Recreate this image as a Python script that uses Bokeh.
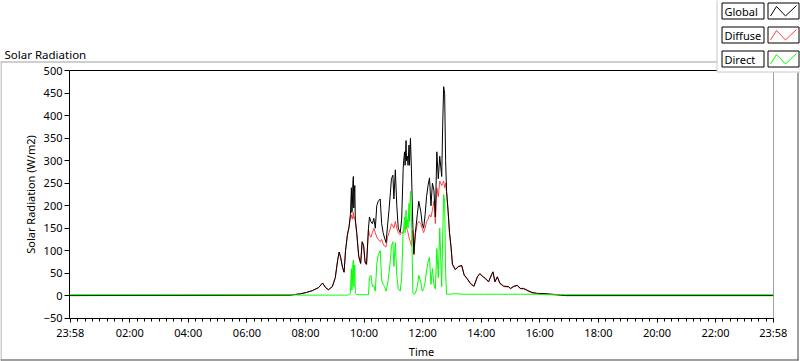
from bokeh.plotting import figure
from bokeh.models import Range1d, FixedTicker, CustomJSTickFormatter, LinearAxis
from bokeh.core.properties import value
from bokeh.embed import file_html
from bokeh.resources import INLINE

# ---------------- data ----------------
times = ["23:58", "07:29", "07:50", "08:02", "08:14", "08:27", "08:35", "08:41", "08:47",
         "08:55", "09:01", "09:06", "09:09", "09:12", "09:16", "09:19", "09:22", "09:26",
         "09:29", "09:32", "09:34", "09:35", "09:36", "09:37", "09:38", "09:39", "09:40",
         "09:41", "09:42", "09:45", "09:49",
         "09:53", "09:56", "09:59", "10:02", "10:05", "10:09", "10:11", "10:14", "10:17",
         "10:20", "10:23", "10:26", "10:29", "10:33", "10:36", "10:39", "10:42", "10:45",
         "10:48", "10:51", "10:54", "10:56", "10:59", "11:01", "11:04", "11:07", "11:10",
         "11:14", "11:17", "11:20", "11:21", "11:23", "11:24", "11:26", "11:27", "11:29",
         "11:30", "11:32", "11:33", "11:35", "11:37",
         "11:40", "11:42", "11:45", "11:49", "11:52", "11:56", "11:59", "12:02", "12:05",
         "12:08", "12:11", "12:14", "12:17", "12:20", "12:23", "12:26", "12:29", "12:32",
         "12:35", "12:39", "12:41", "12:43", "12:45", "12:47", "12:49", "12:52", "12:55",
         "12:58", "13:01", "13:07", "13:13", "13:20", "13:25", "13:31", "13:38", "13:45",
         "13:52", "13:57", "14:04", "14:09", "14:15", "14:22", "14:24", "14:28", "14:33",
         "14:38", "14:46", "14:56", "15:00", "15:07", "15:14", "15:20", "15:27", "15:34",
         "15:44", "15:55", "16:15", "16:36", "16:53", "23:58"]

global_wm2 = [0, 1, 4, 7, 11, 18, 28, 18, 13,
              20, 40, 80, 97, 85, 62, 52, 100, 137,
              152, 180, 240, 185, 200, 250, 265, 195, 230,
              245, 170, 140, 88,
              72, 120, 112, 75, 70, 150, 175, 165, 160,
              172, 150, 200, 210, 215, 160, 140, 128, 118,
              155, 190, 230, 260, 268, 215, 280, 200, 150,
              140, 170, 280, 300, 320, 290, 345, 300, 310,
              290, 335, 290, 350, 280,
              150, 93, 140, 180, 210, 188, 160, 150, 180,
              220, 245, 262, 200, 250, 235, 175, 320, 260,
              310, 265, 380, 465, 450, 300, 232, 190, 140,
              110, 70, 58, 65, 67, 46, 38, 27, 21,
              42, 49, 42, 38, 31, 49, 53, 31, 42,
              28, 21, 20, 16, 21, 23, 16, 16, 12,
              7, 5, 4, 2, 0, 0]

diffuse_wm2 = [0, 1, 4, 7, 11, 18, 28, 18, 13,
               20, 40, 80, 97, 85, 62, 52, 100, 135,
               150, 175, 180, 172, 170, 178, 185, 172, 175,
               175, 165, 138, 86,
               70, 118, 110, 73, 68, 148, 135, 130, 140,
               150, 140, 130, 125, 120, 125, 115, 110, 108,
               130, 140, 150, 160, 155, 150, 165, 150, 140,
               135, 140, 140, 145, 150, 150, 165, 150, 145,
               140, 130, 125, 120, 110,
               145, 90, 135, 160, 165, 160, 150, 140, 150,
               165, 170, 180, 175, 190, 210, 160, 240, 220,
               255, 245, 250, 255, 240, 250, 228, 188, 138,
               108, 68, 57, 64, 66, 45, 37, 26, 20,
               41, 48, 41, 37, 30, 48, 52, 30, 41,
               27, 20, 19, 15, 20, 22, 15, 15, 11,
               6, 4, 3, 1, 0, 0]

direct_wm2 = [2, 2, 1, 1, 1, 1, 1, 1, 1,
              1, 1, 1, 1, 1, 1, 1, 1, 1,
              2, 5, 60, 12, 30, 70, 79, 20, 55,
              68, 5, 2, 2,
              2, 2, 2, 2, 2, 2, 40, 45, 20,
              22, 10, 70, 90, 100, 35, 25, 20, 10,
              25, 50, 80, 110, 120, 65, 118, 45, 15,
              10, 40, 145, 150, 175, 140, 190, 150, 170,
              150, 205, 165, 232, 175,
              5, 3, 5, 20, 45, 30, 10, 15, 30,
              55, 75, 85, 25, 60, 25, 15, 105, 40,
              150, 20, 130, 225, 210, 50, 3, 3, 3,
              3, 4, 4, 4, 3, 3, 3, 3, 3,
              3, 3, 3, 3, 3, 3, 3, 3, 3,
              3, 3, 3, 3, 3, 3, 3, 3, 3,
              3, 3, 2, 2, 2, 2]

series_names = ["Global", "Diffuse", "Direct"]
series_colors = ["#000000", "#ff4040", "#00ff00"]

x_tick_labels = ["23:58", "02:00", "04:00", "06:00", "08:00", "10:00", "12:00",
                 "14:00", "16:00", "18:00", "20:00", "22:00", "23:58"]
y_ticks = [-50, 0, 50, 100, 150, 200, 250, 300, 350, 400, 450, 500]


def to_min(s):
    h, m = s.split(":")
    return int(h) * 60 + int(m)


t = [to_min(s) for s in times]
t[0] -= 1440          # first sample is 23:58 of the previous day
x_ticks = [to_min(s) for s in x_tick_labels]
x_ticks[0] -= 1440
minor = []
for a, b in zip(x_ticks[:-1], x_ticks[1:]):
    minor += [a + (b - a) * k / 8 for k in range(1, 8)]

FONT = "Noto Sans"
FS = "11px"
W, H = 800, 361

# ---------------- main chart ----------------
p = figure(width=W, height=H, output_backend="svg", toolbar_location=None,
           x_range=Range1d(-3.4, 1438.6), y_range=Range1d(-51, 501),
           min_border_left=69, min_border_right=27, min_border_top=70,
           min_border_bottom=38)
p.xgrid.visible = False
p.ygrid.visible = False
p.outline_line_color = "#a0a0a0"
p.background_fill_color = "white"
p.border_fill_color = "white"

xa = p.xaxis[0]
xa.ticker = FixedTicker(ticks=x_ticks, minor_ticks=minor)
xa.formatter = CustomJSTickFormatter(args=dict(xt=x_ticks, xl=x_tick_labels), code="""
const i = xt.indexOf(tick);
return i >= 0 ? xl[i] : '';
""")
xa.major_tick_out = 4
xa.major_tick_in = 0
xa.minor_tick_out = 3
xa.minor_tick_in = 0
xa.major_label_standoff = 2
xa.axis_line_color = "black"
xa.major_tick_line_color = "black"
xa.minor_tick_line_color = "black"
xa.major_label_text_font = FONT
xa.major_label_text_font_size = FS
xa.major_label_text_color = "black"
xa.axis_label = "Time"
xa.axis_label_text_font = FONT
xa.axis_label_text_font_size = FS
xa.axis_label_text_font_style = "normal"
xa.axis_label_text_color = "black"
xa.axis_label_standoff = 1

ya = p.yaxis[0]
ya.ticker = FixedTicker(ticks=y_ticks, minor_ticks=[])
ya.major_tick_out = 5
ya.major_tick_in = 0
ya.minor_tick_out = 0
ya.minor_tick_in = 0
ya.major_label_standoff = 2
ya.axis_line_color = "black"
ya.major_tick_line_color = "black"
ya.major_label_text_font = FONT
ya.major_label_text_font_size = FS
ya.major_label_text_color = "black"
ya.axis_label = "Solar Radiation (W/m2)"
ya.axis_label_text_font = FONT
ya.axis_label_text_font_size = FS
ya.axis_label_text_font_style = "normal"
ya.axis_label_text_color = "black"
ya.axis_label_standoff = 3

top_axis = LinearAxis(ticker=FixedTicker(ticks=[], minor_ticks=[]), major_tick_out=0,
                      minor_tick_out=0, major_label_text_font_size="0px",
                      axis_line_color="black")
p.add_layout(top_axis, "above")

# series (diffuse under global, direct on top)
p.line(t, diffuse_wm2, color=series_colors[1], line_width=1)
p.line(t, global_wm2, color=series_colors[0], line_width=1)
p.line(t, direct_wm2, color=series_colors[2], line_width=1)

# ---------------- transparent overlay: title, control frame, legend ----------------
o = figure(width=W, height=H, output_backend="svg", toolbar_location=None,
           x_range=Range1d(0, W), y_range=Range1d(H, 0), x_axis_type=None,
           y_axis_type=None, min_border=0, title=None)
o.xgrid.visible = False
o.ygrid.visible = False
o.outline_line_color = None
o.background_fill_alpha = 0
o.border_fill_alpha = 0
o.styles = {"position": "absolute", "left": "0px", "top": "0px"}

o.text(x=[4], y=[54], text=["Solar Radiation"], text_font=value(FONT),
       text_font_size="11.5px", text_color="black", text_align="left",
       text_baseline="alphabetic")

# control frame (light top/left, dark bottom/right)
o.segment(x0=[0, 0.5], y0=[61.5, 61], x1=[717, 0.5], y1=[61.5, 360],
          line_color="#a0a0a0", line_width=1)
o.segment(x0=[0, 797.5], y0=[359.5, 72], x1=[798, 797.5], y1=[359.5, 360],
          line_color="#404040", line_width=1)

# legend: label boxes on the left, zig-zag samples on the right
o.quad(left=[716.5], right=[801], top=[-1], bottom=[71.5], fill_color="white",
       line_color="#c8c8c8", line_width=1)
item_tops = [2.5, 26.5, 50.5]
item_h = 16
o.quad(left=[721.5] * 3, right=[763.5] * 3, top=item_tops,
       bottom=[v + item_h for v in item_tops], fill_color="white",
       line_color="black", line_width=1)
o.quad(left=[767.5] * 3, right=[798.5] * 3, top=item_tops,
       bottom=[v + item_h for v in item_tops], fill_color="white",
       line_color="black", line_width=1)
o.text(x=[724] * 3, y=[v + item_h / 2 + 0.5 for v in item_tops], text=series_names,
       text_font=value(FONT), text_font_size=FS, text_color="black",
       text_align="left", text_baseline="middle")
zig_dx = [2.5, 8.5, 17.5, 28.5]
zig_dy = [13, 3.5, 13, 2.5]
for color, top in zip(series_colors, item_tops):
    o.line([767.5 + d for d in zig_dx], [top + d for d in zig_dy],
           line_color=color, line_width=1)

open("out.html", "w").write(file_html([p, o], INLINE))
